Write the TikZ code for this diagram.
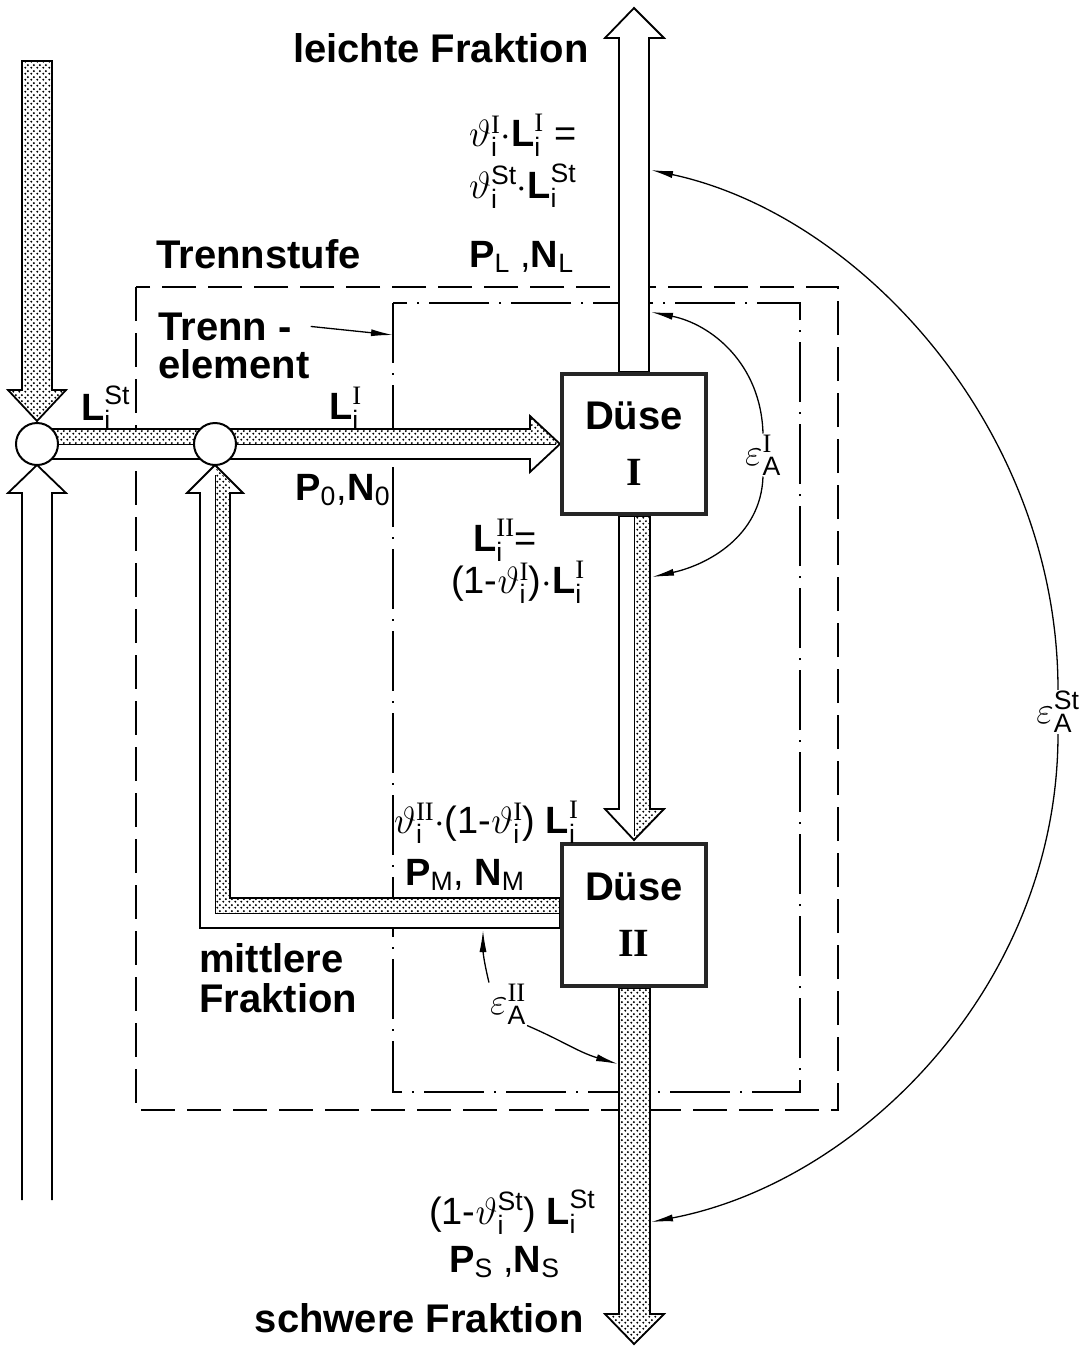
\documentclass[tikz,border=0pt]{standalone}
\usepackage{fix-cm}
\usepackage{amsmath}
\usepackage{fontspec}
\setmainfont{Liberation Sans}
\newfontfamily\romfont{Liberation Serif}
\usetikzlibrary{arrows.meta,positioning,patterns.meta}
\newcommand{\Li}[1]{$\textbf{L}_{\text{i}}^{\text{#1}}$}
\newcommand{\thi}[1]{$\vartheta_{\text{i}}^{\text{#1}}$}
\newcommand{\epsA}[1]{$\varepsilon_{\text{A}}^{\text{#1}}$}
\newcommand{\PN}[2]{\textbf{P}$_{\text{#1}}$#2\textbf{N}$_{\text{#1}}$}

\tikzdeclarepattern{
  name=stipple,
  tile size={(6pt,6pt)},
  bottom left={(0pt,0pt)},
  top right={(6pt,6pt)},
  code={
    \fill (1.5pt,1.5pt) circle (1.25pt);
    \fill (4.5pt,4.5pt) circle (1.25pt);
  }
}

\tikzset{
  word/.style={font=\fontsize{40}{44}\selectfont\bfseries, inner sep=1pt},
  mlab/.style={font=\fontsize{38}{42}\selectfont, inner sep=1pt},
  duese/.style={draw=black!85, line width=4pt, fill=white, minimum width=144pt,
    minimum height=140pt, align=center, font=\fontsize{40}{44}\selectfont\bfseries},
  mixer/.style={draw, circle, line width=2pt, fill=white, minimum size=42pt, inner sep=0pt},
  band/.style={draw, line width=1.8pt, line join=miter},
  stip/.style={preaction={fill=white}, pattern=stipple},
  epsarrow/.style={line width=1.3pt, -{Latex[length=22pt,width=7pt]}},
  stufe/.style={line width=1.8pt, dash pattern=on 34pt off 12pt},
  element/.style={line width=1.5pt, dash pattern=on 60pt off 10pt on 2pt off 10pt},
}

\begin{document}
\begin{tikzpicture}[x=1pt,y=-1pt]
\useasboundingbox (0,0) rectangle (1089,1347);
% Trennstufe / Trennelement
\draw[stufe] (136,287) rectangle (838,1110);
\draw[element] (393,303) rectangle (800,1092);

% Zulauf und Abzug links
\draw[band, stip] (22,61) -- (52,61) -- (52,390) -- (66,390) -- (37,421) -- (8,390) -- (22,390) -- cycle;
\draw[band] (22,1200) -- (22,493) -- (8,493) -- (37,465) -- (66,493) -- (52,493) -- (52,1200);

% Zufuhr zu Duese I
\draw[band, fill=white] (37,429) -- (530,429) -- (530,416) -- (560,444) -- (530,472) -- (530,459) -- (37,459) -- cycle;
\fill[pattern=stipple] (37,429) -- (530,429) -- (530,416) -- (560,444) -- (37,444) -- cycle;
\draw[line width=1pt] (37,444) -- (556,444);

% mittlere Fraktion zurueck
\draw[band, fill=white] (560,928) -- (200,928) -- (200,493) -- (187,493) -- (215,465) -- (243,493) -- (230,493) -- (230,898) -- (560,898) -- cycle;
\fill[pattern=stipple] (215,467) -- (230,482) -- (230,898) -- (560,898) -- (560,913) -- (215,913) -- cycle;
\draw[line width=1pt] (215,475) -- (215,913) -- (560,913);

% Duese I -> Duese II
\draw[band, fill=white] (619,516) -- (619,809) -- (605,809) -- (634,840) -- (664,809) -- (650,809) -- (650,516) -- cycle;
\fill[pattern=stipple] (634,516) -- (634,840) -- (664,809) -- (650,809) -- (650,516) -- cycle;
\draw[line width=1pt] (634,516) -- (634,836);

% leichte und schwere Fraktion
\draw[band, fill=white] (619,372) -- (619,38) -- (605,38) -- (634,8) -- (664,38) -- (649,38) -- (649,372) -- cycle;
\draw[band, stip] (619,988) -- (619,1314) -- (605,1314) -- (634,1344) -- (664,1314) -- (650,1314) -- (650,988) -- cycle;

\node[mixer] (mix1) at (37,444) {};
\node[mixer] (mix2) at (215,444) {};
\node[duese] (d1) at (634,444) {Düse\\[12pt]{\romfont I}};
\node[duese, minimum height=142pt] (d2) at (634,915) {Düse\\[12pt]{\romfont II}};

% Beschriftung
\node[word, anchor=base east] (lf) at (590,62) {leichte Fraktion};
\node[word, anchor=base west] (stufe) at (155,268) {Trennstufe};
\node[word, anchor=base west] (elemA) at (157,340) {Trenn -};
\node[word, anchor=base west] (elemB) at (157,378) {element};
\node[word, anchor=base west] (mfA) at (198,972) {mittlere};
\node[word, anchor=base west] (mfB) at (198,1012) {Fraktion};
\node[word, anchor=base east] (sf) at (585,1332) {schwere Fraktion};

\node[mlab, anchor=west] (lab1) at (468,135) {\thi{\romfont I}$\cdot$\Li{\romfont I} =};
\node[mlab, anchor=west] (lab2) at (468,186) {\thi{St}$\cdot$\Li{St}};
\node[mlab, anchor=west] (lab3) at (468,257) {\PN{L}{ ,}};
\node[mlab, anchor=west] (lSt) at (80,408) {\Li{St}};
\node[mlab, anchor=west] (lI) at (328,408) {\Li{\romfont I}};
\node[mlab, anchor=west] (lab0) at (294,490) {\PN{0}{\kern1pt,}};
\node[mlab, anchor=west] (lII) at (472,540) {\Li{\romfont II}=};
\node[mlab, anchor=west] (lII2) at (450,582) {(1-\thi{\romfont I})$\cdot$\Li{\romfont I}};
\node[mlab, anchor=west] (labM) at (393,822) {\thi{\romfont II}$\cdot$(1-\thi{\romfont I}) \Li{\romfont I}};
\node[mlab, anchor=west] (labM2) at (404,875) {\PN{M}{, }};
\node[mlab, anchor=west] (labS) at (428,1212) {(1-\thi{St}) \Li{St}};
\node[mlab, anchor=west] (labS2) at (448,1262) {\PN{S}{ ,}};

% Abtrennfaktoren
\node[mlab] (epsI) at (763,455) {\epsA{\romfont I}};
\node[mlab] (epsII) at (508,1004) {\epsA{\romfont II}};
\node[mlab] (epsSt) at (1058,712) {\epsA{St}};
\coordinate (eItop) at (651,312);
\coordinate (eIbot) at (652,577);
\coordinate (eIIup) at (483,930);
\coordinate (eIIdn) at (618,1064);
\coordinate (stTop) at (651,170);
\coordinate (stBot) at (651,1222);
\coordinate (elemTip) at (393,335);
\draw[epsarrow] (epsI.north) .. controls +(-2,-70) and +(60,12) .. (eItop);
\draw[epsarrow] (epsI.south) .. controls +(-2,60) and +(55,-12) .. (eIbot);
\draw[epsarrow] (epsII.north west) .. controls +(-6,-25) and +(0,20) .. (eIIup);
\draw[epsarrow] (epsII.south east) .. controls +(35,15) and +(-40,-12) .. (eIIdn);
\draw[epsarrow] (epsSt.north) .. controls +(0,-260) and +(210,45) .. (stTop);
\draw[epsarrow] (epsSt.south) .. controls +(0,250) and +(210,-40) .. (stBot);
\draw[epsarrow] (elemA.east) ++(18,0) -- (elemTip);
\end{tikzpicture}
\end{document}
